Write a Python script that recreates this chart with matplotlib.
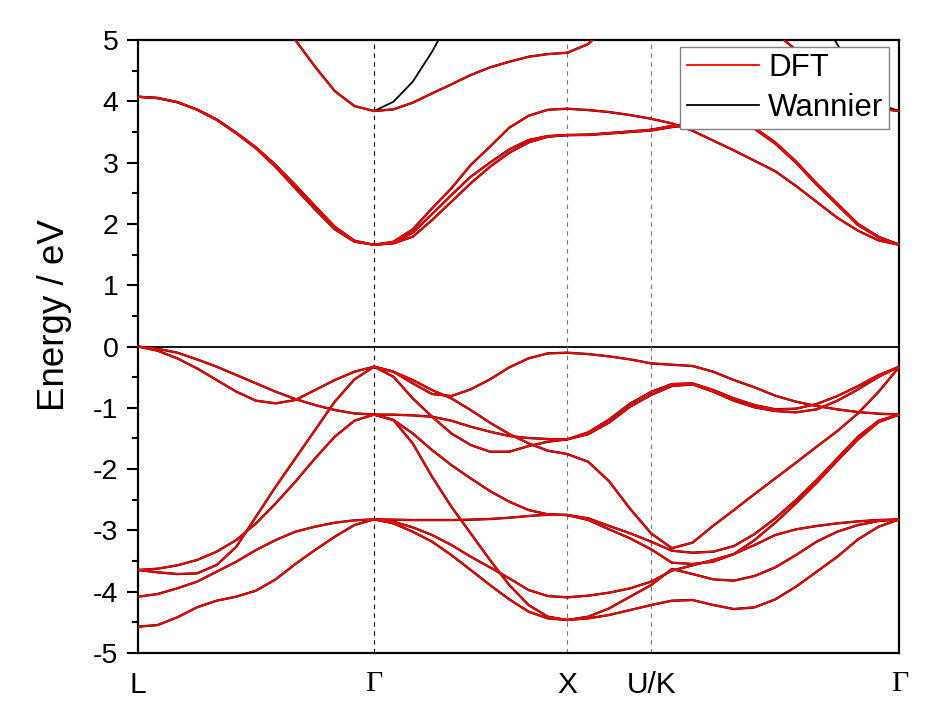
import numpy as np
import matplotlib
matplotlib.use("Agg")
import matplotlib.pyplot as plt
from matplotlib.ticker import MultipleLocator

plt.rcParams['font.family'] = ['Liberation Sans', 'DejaVu Sans']
plt.rcParams['axes.unicode_minus'] = False

# high-symmetry points along the fcc path (units of 2*pi/a)
k_nodes = [0.0, 0.866, 1.574, 1.882, 2.792]
k_labels = ['L', 'Γ', 'X', 'U/K', 'Γ']
seg_points = [13, 11, 5, 13]
nan = np.nan

# ---- segment L -> Gamma (energies in eV) ----
LG_bands = [
    [0.00, -0.036, -0.101, -0.210, -0.329, -0.465, -0.601, -0.737, -0.857, -0.955, -1.036, -1.091, -1.11],
    [0.00, -0.068, -0.193, -0.356, -0.547, -0.737, -0.884, -0.927, -0.873, -0.710, -0.547, -0.411, -0.329],
    [-3.646, -3.684, -3.712, -3.701, -3.565, -3.266, -2.776, -2.287, -1.825, -1.362, -0.900, -0.536, -0.329],
    [-3.646, -3.625, -3.570, -3.483, -3.347, -3.157, -2.885, -2.559, -2.205, -1.825, -1.471, -1.210, -1.11],
    [-4.081, -4.038, -3.945, -3.837, -3.674, -3.510, -3.320, -3.157, -3.021, -2.939, -2.874, -2.836, -2.820],
    [-4.571, -4.544, -4.418, -4.255, -4.147, -4.081, -3.983, -3.798, -3.548, -3.320, -3.103, -2.912, -2.820],
    [4.075, 4.054, 3.988, 3.869, 3.706, 3.488, 3.249, 2.961, 2.634, 2.292, 1.955, 1.726, 1.66],
    [4.075, 4.054, 3.985, 3.864, 3.698, 3.477, 3.233, 2.929, 2.580, 2.237, 1.912, 1.710, 1.66],
    [nan, nan, nan, nan, nan, nan, nan, 5.43, 5.00, 4.565, 4.168, 3.923, 3.842],
]

# ---- segment Gamma -> X ----
GX_bands = [
    [-0.329, -0.411, -0.601, -0.775, -0.808, -0.699, -0.536, -0.340, -0.193, -0.112, -0.101],
    [-0.329, -0.411, -0.547, -0.710, -0.846, -1.036, -1.243, -1.428, -1.580, -1.700, -1.754],
    [-0.329, -0.492, -0.846, -1.145, -1.417, -1.607, -1.716, -1.716, -1.624, -1.553, -1.515],
    [-1.11, -1.112, -1.123, -1.145, -1.210, -1.308, -1.390, -1.460, -1.493, -1.509, -1.515],
    [-1.11, -1.199, -1.417, -1.689, -1.934, -2.151, -2.358, -2.532, -2.668, -2.738, -2.749],
    [-1.11, -1.199, -1.580, -2.124, -2.613, -3.048, -3.483, -3.891, -4.218, -4.408, -4.462],
    [-2.820, -2.825, -2.831, -2.831, -2.831, -2.825, -2.814, -2.793, -2.765, -2.744, -2.749],
    [-2.820, -2.858, -2.950, -3.075, -3.238, -3.429, -3.603, -3.782, -3.973, -4.071, -4.092],
    [-2.820, -2.885, -3.021, -3.184, -3.402, -3.646, -3.891, -4.125, -4.326, -4.435, -4.462],
    [1.66, 1.710, 1.911, 2.254, 2.580, 2.961, 3.260, 3.570, 3.765, 3.863, 3.880],
    [1.66, 1.694, 1.857, 2.161, 2.471, 2.770, 3.000, 3.216, 3.369, 3.434, 3.450],
    [1.66, 1.683, 1.791, 2.063, 2.362, 2.662, 2.933, 3.162, 3.330, 3.423, 3.450],
    [3.842, 3.869, 3.978, 4.130, 4.277, 4.429, 4.554, 4.646, 4.728, 4.771, 4.793],
]

# ---- segment X -> U ----
XU_bands = [
    [-0.101, -0.123, -0.161, -0.210, -0.275],
    [-1.515, -1.40, -1.19, -0.93, -0.74],
    [-1.515, -1.43, -1.24, -0.98, -0.79],
    [-1.754, -1.88, -2.20, -2.65, -3.05],
    [-2.749, -2.803, -2.928, -3.048, -3.184],
    [-2.749, -2.830, -2.983, -3.130, -3.309],
    [-4.092, -4.065, -4.016, -3.945, -3.836],
    [-4.462, -4.435, -4.380, -4.299, -4.217],
    [-4.462, -4.408, -4.272, -4.081, -3.891],
    [3.880, 3.858, 3.825, 3.776, 3.716],
    [3.450, 3.456, 3.483, 3.510, 3.537],
    [3.450, 3.452, 3.475, 3.500, 3.525],
    [4.793, 4.935, 5.27, 5.60, 6.00],
]

# ---- segment K -> Gamma ----
KG_bands = [
    [-0.275, -0.297, -0.318, -0.411, -0.547, -0.666, -0.802, -0.900, -0.971, -1.025, -1.069, -1.096, -1.11],
    [-0.74, -0.612, -0.601, -0.710, -0.846, -0.955, -1.025, -1.014, -0.938, -0.808, -0.645, -0.465, -0.329],
    [-0.79, -0.645, -0.617, -0.737, -0.884, -0.993, -1.052, -1.074, -1.025, -0.884, -0.699, -0.492, -0.329],
    [-3.05, -3.29, -3.20, -2.923, -2.668, -2.406, -2.151, -1.895, -1.634, -1.379, -1.091, -0.737, -0.329],
    [-3.184, -3.331, -3.364, -3.347, -3.255, -3.059, -2.803, -2.504, -2.178, -1.825, -1.471, -1.210, -1.11],
    [-3.309, -3.527, -3.548, -3.510, -3.385, -3.157, -2.874, -2.559, -2.222, -1.863, -1.515, -1.232, -1.11],
    [-3.836, -3.657, -3.570, -3.483, -3.385, -3.238, -3.075, -2.983, -2.928, -2.885, -2.852, -2.831, -2.820],
    [-3.891, -3.630, -3.712, -3.799, -3.820, -3.744, -3.603, -3.402, -3.184, -3.021, -2.912, -2.847, -2.820],
    [-4.217, -4.147, -4.136, -4.217, -4.283, -4.255, -4.125, -3.918, -3.674, -3.429, -3.146, -2.939, -2.820],
    [3.716, 3.64, 3.52, 3.36, 3.20, 3.03, 2.86, 2.62, 2.36, 2.10, 1.89, 1.73, 1.66],
    [3.537, 3.60, 3.64, 3.66, 3.64, 3.57, 3.33, 3.02, 2.66, 2.33, 2.00, 1.79, 1.66],
    [3.525, 3.58, 3.62, 3.64, 3.62, 3.55, 3.31, 3.00, 2.64, 2.31, 1.98, 1.78, 1.66],
    [nan, nan, nan, nan, nan, 5.40, 5.12, 4.84, 4.50, 4.20, 4.00, 3.88, 3.842],
]

# Wannier-interpolated bands that depart from DFT above 4 eV
GX_wannier_extra = [[3.842, 3.994, 4.320, 4.810, 5.38, nan, nan, nan, nan, nan, nan]]
KG_wannier_extra = [[nan, nan, nan, nan, nan, nan, nan, nan, 5.50, 4.93, 4.35, 3.95, 3.842]]

dft_segments = [LG_bands, GX_bands, XU_bands, KG_bands]
wannier_extra = [[], GX_wannier_extra, [], KG_wannier_extra]

fig = plt.figure(figsize=(9.32, 7.09), dpi=100)
ax = fig.add_axes([0.148, 0.079, 0.817, 0.8645])

line_kw = dict(solid_joinstyle='round', solid_capstyle='round')
for i, bands in enumerate(dft_segments):
    k = np.linspace(k_nodes[i], k_nodes[i + 1], seg_points[i])
    for e in bands:
        ax.plot(k, e, color='black', lw=1.7, zorder=2, **line_kw)
    for e in wannier_extra[i]:
        ax.plot(k, e, color='black', lw=1.3, zorder=2, **line_kw)
    for e in bands:
        ax.plot(k, e, color='#ff0000', lw=1.3, zorder=3, **line_kw)

# legend handles
ax.plot([], [], color='#ff0000', lw=1.3, label='DFT')
ax.plot([], [], color='black', lw=1.3, label='Wannier')

ax.axhline(0, color='black', lw=1.3, zorder=1)
for kx, c in zip(k_nodes[1:4], ['black', '#777777', '#777777']):
    ax.axvline(kx, color=c, lw=0.8, ls=(0, (4, 4)), zorder=1)

ax.set_xlim(k_nodes[0], k_nodes[-1])
ax.set_ylim(-5, 5)
ax.set_xticks(k_nodes)
ax.set_xticklabels(k_labels)
for lab in ax.get_xticklabels():
    if lab.get_text() == 'Γ':
        lab.set_family(['Liberation Serif', 'DejaVu Serif'])
        lab.set_fontsize(23)
ax.tick_params(axis='x', length=0, pad=13, labelsize=21.5)
ax.yaxis.set_major_locator(MultipleLocator(1))
ax.yaxis.set_minor_locator(MultipleLocator(0.5))
ax.tick_params(axis='y', which='major', direction='out', length=8, width=1.5,
               labelsize=20.5, pad=6)
ax.tick_params(axis='y', which='minor', direction='out', length=4.5, width=1.5)
ax.tick_params(right=False, top=False)

for sp in ax.spines.values():
    sp.set_linewidth(1.6)

ax.set_ylabel('Energy / eV', fontsize=26.5)
ax.yaxis.set_label_coords(-0.086, 0.551)

leg = ax.legend(loc='upper right', bbox_to_anchor=(0.987, 0.989), borderaxespad=0,
                fontsize=22.5, frameon=True, fancybox=False, handlelength=2.3,
                handletextpad=0.3, labelspacing=0.32, borderpad=0.2)
leg.get_frame().set_edgecolor('#808080')
leg.get_frame().set_linewidth(1.0)
leg.get_frame().set_alpha(1)
leg.set_zorder(5)

fig.savefig('out.png', dpi=100)
